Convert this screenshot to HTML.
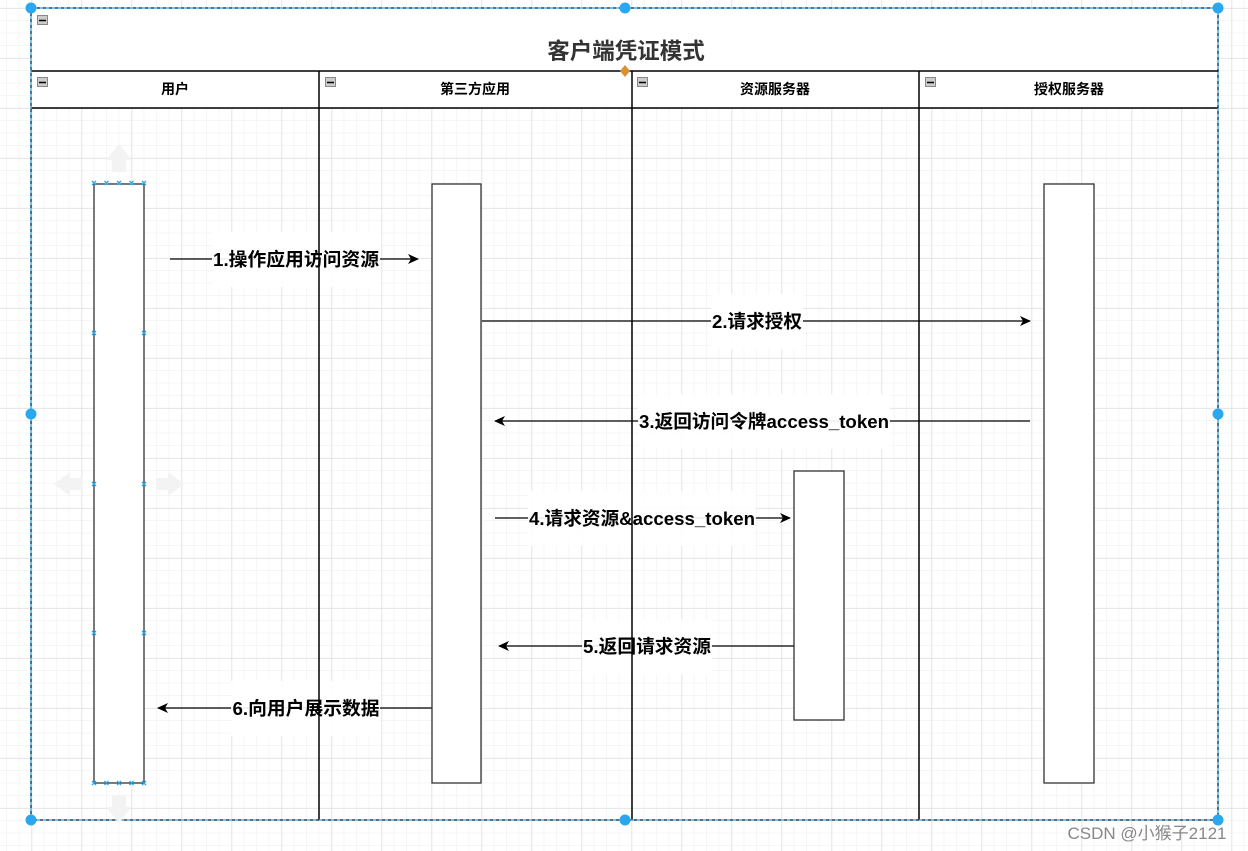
<!DOCTYPE html>
<html><head><meta charset="utf-8"><style>
html,body{margin:0;padding:0;background:#fff;}
svg{display:block;}
text{font-family:"Liberation Sans","Noto Sans CJK SC",sans-serif;}
</style></head><body>
<svg width="1248" height="851" viewBox="0 0 1248 851" xmlns="http://www.w3.org/2000/svg">
<defs>
<pattern id="minor" x="31.7" y="8.3" width="12.5" height="12.5" patternUnits="userSpaceOnUse">
<path d="M12.5 0V12.5M0 12.5H12.5" stroke="#ececec" stroke-width="1" fill="none"/>
</pattern>
<pattern id="major" x="31.7" y="8.3" width="50" height="50" patternUnits="userSpaceOnUse">
<path d="M0 0V50M0 0H50" stroke="#d8d8d8" stroke-width="1" fill="none"/>
</pattern>
<marker id="ar" markerWidth="12" markerHeight="10" refX="10" refY="5" orient="auto" markerUnits="userSpaceOnUse">
<path d="M0 0L11 5L0 10L3 5Z" fill="#000"/>
</marker>
</defs>
<rect width="1248" height="851" fill="url(#minor)"/>
<rect width="1248" height="851" fill="url(#major)"/>
<rect x="31" y="8" width="1187" height="63" fill="#fff"/>
<rect x="31" y="71" width="1187" height="37" fill="#fff"/>
<text x="626" y="59" text-anchor="middle" font-size="22.5" font-weight="bold" fill="#333">客户端凭证模式</text>
<g font-size="14" fill="#000" text-anchor="middle" font-weight="bold">
<text x="175" y="94">用户</text>
<text x="475" y="94">第三方应用</text>
<text x="775" y="94">资源服务器</text>
<text x="1069" y="94">授权服务器</text>
</g>
<g fill="#ccc" stroke="#888" stroke-width="1">
<rect x="37.5" y="15.5" width="10" height="9"/>
<rect x="37.5" y="77.5" width="10" height="9"/>
<rect x="325.5" y="77.5" width="10" height="9"/>
<rect x="637.5" y="77.5" width="10" height="9"/>
<rect x="925.5" y="77.5" width="10" height="9"/>
</g>
<g stroke="#000" stroke-width="1.5">
<path d="M39 20.5H46M39 82.5H46M327 82.5H334M639 82.5H646M927 82.5H934"/>
</g>
<g stroke="#000" stroke-width="1.3" fill="none">
<line x1="170" y1="259" x2="418" y2="259" marker-end="url(#ar)"/>
<line x1="482" y1="321" x2="1030" y2="321" marker-end="url(#ar)"/>
<line x1="1030" y1="421" x2="495" y2="421" marker-end="url(#ar)"/>
<line x1="495" y1="518" x2="790" y2="518" marker-end="url(#ar)"/>
<line x1="794" y1="646" x2="499" y2="646" marker-end="url(#ar)"/>
<line x1="432" y1="708" x2="158" y2="708" marker-end="url(#ar)"/>
</g>
<g fill="#fff" opacity="0.92">
<rect x="212" y="232" width="168" height="55"/>
<rect x="711" y="294" width="92" height="55"/>
<rect x="638" y="394" width="252" height="55"/>
<rect x="528" y="491" width="228" height="55"/>
<rect x="582" y="619" width="130" height="55"/>
<rect x="231" y="681" width="149" height="55"/>
</g>
<g stroke="#000" stroke-width="1.5" fill="none">
<line x1="31" y1="71" x2="1218" y2="71"/>
<line x1="31" y1="108" x2="1218" y2="108"/>
<line x1="319" y1="71" x2="319" y2="820"/>
<line x1="632" y1="71" x2="632" y2="820"/>
<line x1="919" y1="71" x2="919" y2="820"/>
</g>
<g fill="#fff" stroke="#333" stroke-width="1.3">
<rect x="94" y="184" width="50" height="599"/>
<rect x="432" y="184" width="49" height="599"/>
<rect x="794" y="471" width="50" height="249"/>
<rect x="1044" y="184" width="50" height="599"/>
</g>
<g font-size="18.5" font-weight="bold" fill="#000" text-anchor="middle">
<text x="296" y="266" textLength="166" lengthAdjust="spacingAndGlyphs">1.操作应用访问资源</text>
<text x="757" y="328" textLength="90" lengthAdjust="spacingAndGlyphs">2.请求授权</text>
<text x="764" y="428" textLength="250" lengthAdjust="spacingAndGlyphs">3.返回访问令牌access_token</text>
<text x="642" y="525" textLength="226" lengthAdjust="spacingAndGlyphs">4.请求资源&amp;access_token</text>
<text x="647" y="653" textLength="128" lengthAdjust="spacingAndGlyphs">5.返回请求资源</text>
<text x="306" y="715" textLength="147" lengthAdjust="spacingAndGlyphs">6.向用户展示数据</text>
</g>
<rect x="31" y="8" width="1187" height="812" fill="none" stroke="#29a8f0" stroke-width="1.3"/>
<rect x="31" y="8" width="1187" height="812" fill="none" stroke="#000" stroke-width="1" stroke-dasharray="3 3"/>
<g fill="#f3f3f3">
<path d="M112 172V160H106L119 144L132 160H126V172Z"/>
<path d="M112 795V807H106L119 823L132 807H126V795Z"/>
<path d="M82 478H70V472L54 484L70 496V490H82Z"/>
<path d="M156 478H168V472L184 484L168 496V490H156Z"/>
</g>
<g stroke="#29a8f0" stroke-width="1.3">
<path d="M92 181l4 4m0-4l-4 4M104.5 181l4 4m0-4l-4 4M117 181l4 4m0-4l-4 4M129.5 181l4 4m0-4l-4 4M142 181l4 4m0-4l-4 4"/>
<path d="M92 781l4 4m0-4l-4 4M104.5 781l4 4m0-4l-4 4M117 781l4 4m0-4l-4 4M129.5 781l4 4m0-4l-4 4M142 781l4 4m0-4l-4 4"/>
<path d="M92 331l4 4m0-4l-4 4M142 331l4 4m0-4l-4 4M92 482l4 4m0-4l-4 4M142 482l4 4m0-4l-4 4M92 631l4 4m0-4l-4 4M142 631l4 4m0-4l-4 4"/>
</g>
<g fill="#29a8f0">
<circle cx="31" cy="8" r="5.5"/><circle cx="625" cy="8" r="5.5"/><circle cx="1218" cy="8" r="5.5"/>
<circle cx="31" cy="414" r="5.5"/><circle cx="1218" cy="414" r="5.5"/>
<circle cx="31" cy="820" r="5.5"/><circle cx="625" cy="820" r="5.5"/><circle cx="1218" cy="820" r="5.5"/>
</g>
<path d="M625 65L630 71L625 77L620 71Z" fill="#d9902e"/>
<text x="1147" y="839" text-anchor="middle" font-size="17" fill="#888">CSDN @小猴子2121</text>
</svg>
</body></html>
